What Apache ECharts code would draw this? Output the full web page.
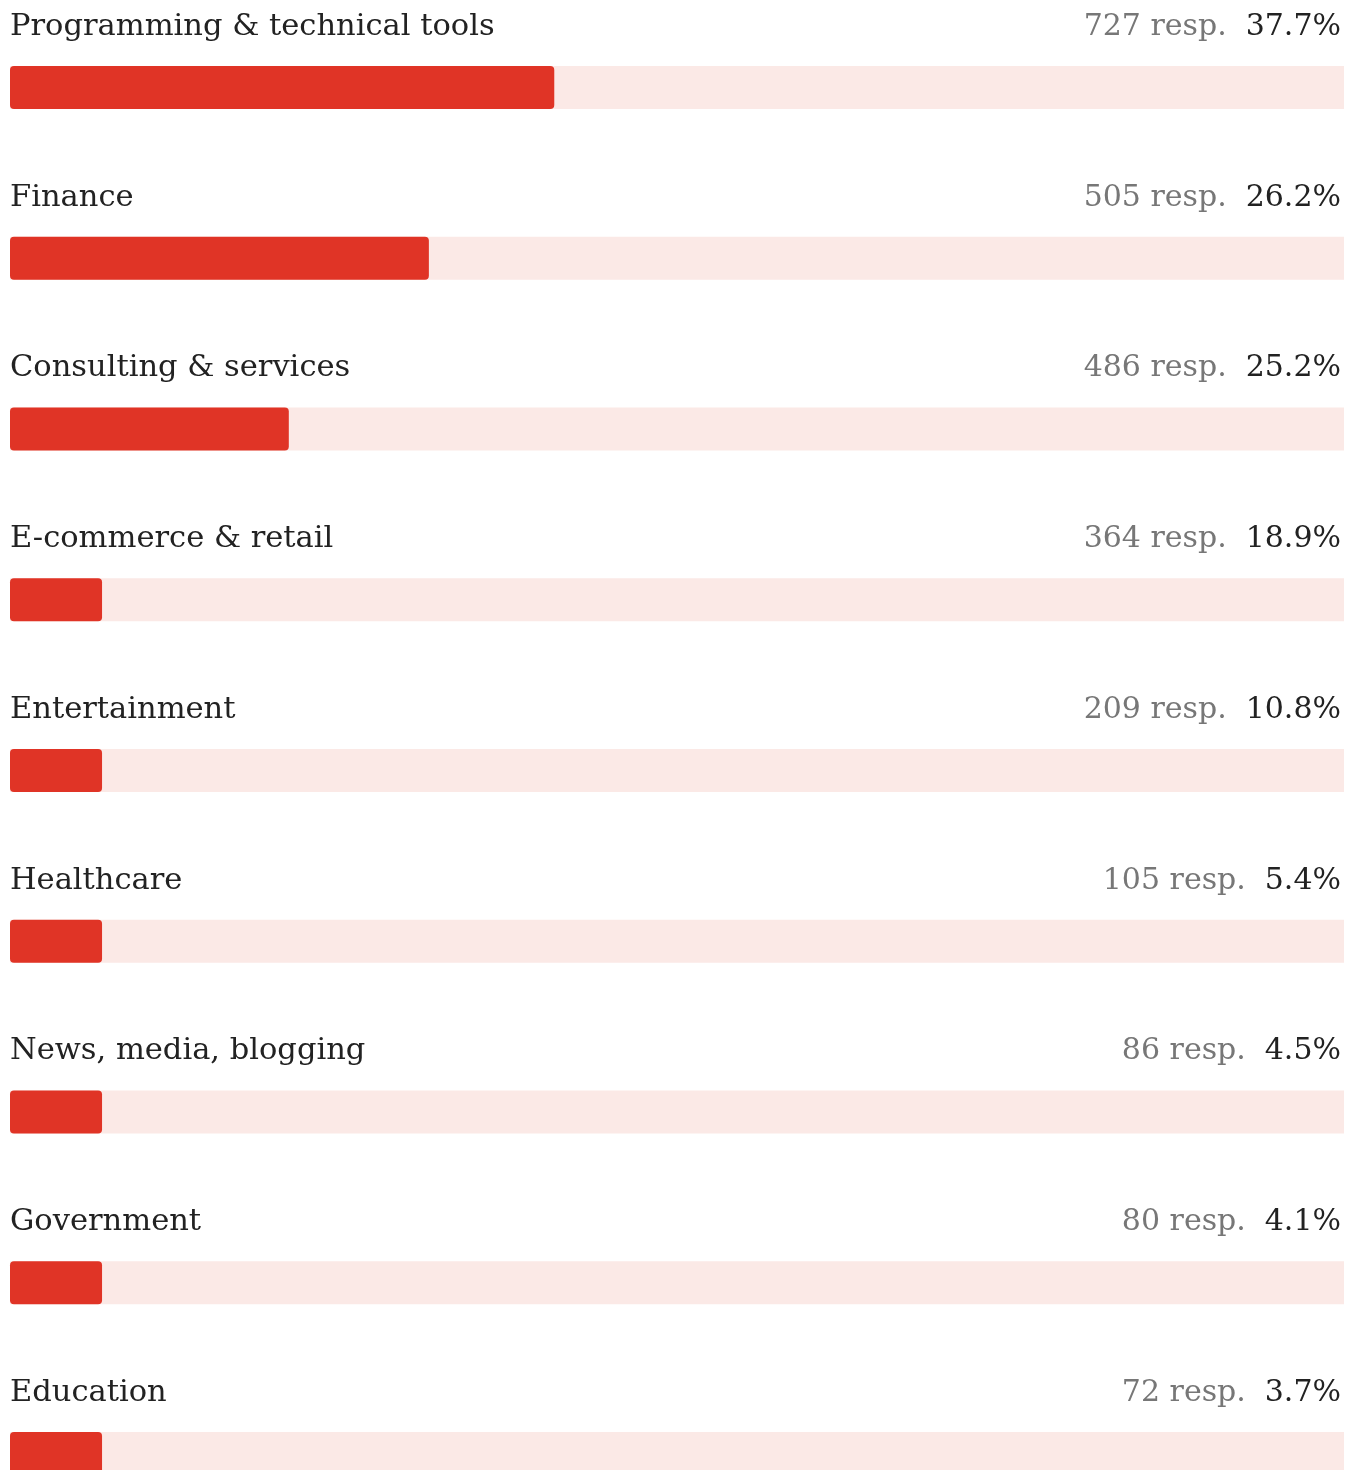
<!DOCTYPE html>
<html><head><meta charset="utf-8">
<script src="https://cdn.jsdelivr.net/npm/echarts@6/dist/echarts.min.js"></script>
<style>html,body{margin:0;padding:0;background:#fff;overflow:hidden}#c{width:1358px;height:1470px}</style>
</head><body><div id="c"></div>
<script>
const categories = ["Programming & technical tools","Finance","Consulting & services","E-commerce & retail","Entertainment","Healthcare","News, media, blogging","Government","Education"];
const responses = [727,505,486,364,209,105,86,80,72];
const percents = ["37.7%","26.2%","25.2%","18.9%","10.8%","5.4%","4.5%","4.1%","3.7%"];
// bar fill as drawn in the picture, in % of the track length
const barLength = [40.8,31.4,20.9,6.9,6.9,6.9,6.9,6.9,6.9];
const trackMax = 100;

const FONT = '"DejaVu Serif", serif';
const chart = echarts.init(document.getElementById('c'), null, {renderer:'canvas'});
chart.setOption({
  animation:false,
  grid:{left:10, width:1334, top:2.1, height:1536.75, containLabel:false, outerBoundsMode:'none'},
  xAxis:{type:'value', min:0, max:trackMax, show:false},
  yAxis:{type:'category', data:categories, inverse:true, show:false},
  series:[
    {type:'bar', barWidth:43, silent:true, clip:false,
     data:categories.map(()=>trackMax),
     itemStyle:{color:'#fbe9e6'},
     label:{show:true, position:['100%',-39], offset:[-3,0], align:'right', verticalAlign:'middle',
       formatter:(p)=>'{n|'+responses[p.dataIndex]+' resp.}{p|'+percents[p.dataIndex]+'}',
       rich:{n:{fontFamily:FONT,fontSize:30,color:'#777777'},
             p:{fontFamily:FONT,fontSize:30,color:'#222222',padding:[0,0,0,19]}}}
    },
    {type:'bar', barWidth:43, barGap:'-100%', silent:true, clip:false,
     data:barLength,
     itemStyle:{color:'#e03426', borderRadius:4},
     label:{show:true, position:[0,-39], align:'left', verticalAlign:'middle',
       formatter:(p)=>categories[p.dataIndex],
       fontFamily:FONT, fontSize:30.5, color:'#222222'}
    }
  ]
});
</script></body></html>
